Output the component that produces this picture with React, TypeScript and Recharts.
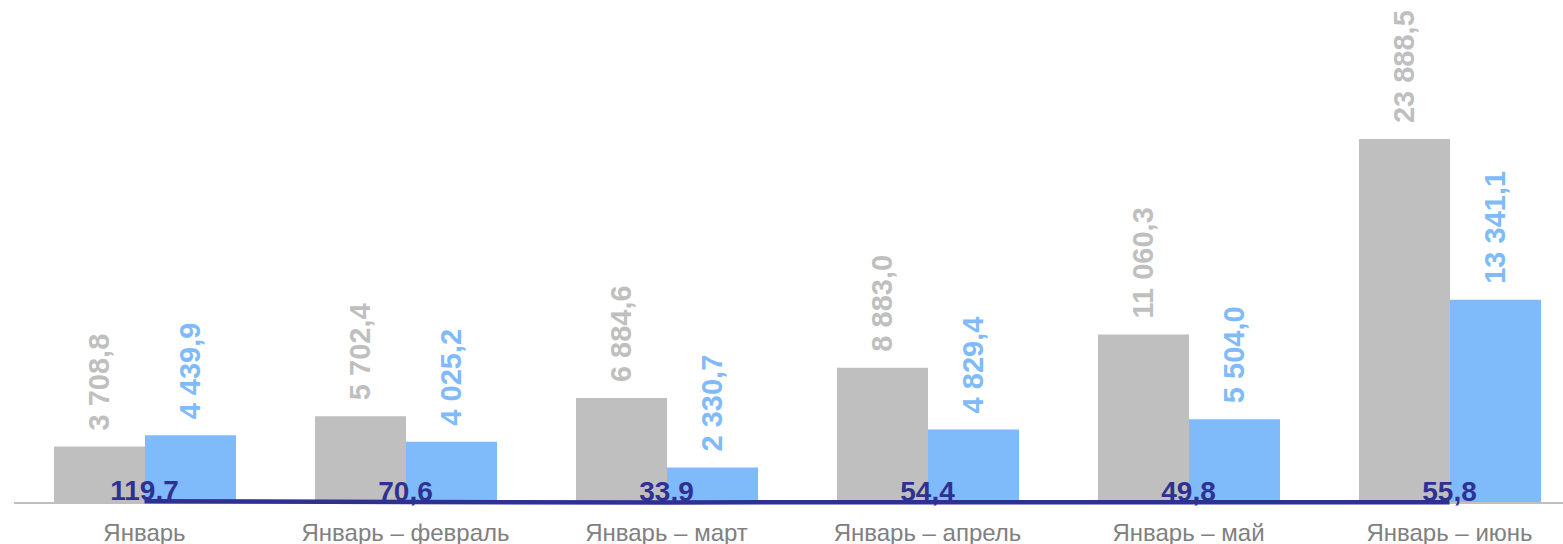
import { ComposedChart, Bar, Line, XAxis, YAxis, LabelList } from "recharts";

const categories = ["Январь", "Январь – февраль", "Январь – март", "Январь – апрель", "Январь – май", "Январь – июнь"];
const prevValues = [3708.8, 5702.4, 6884.6, 8883.0, 11060.3, 23888.5];
const currValues = [4439.9, 4025.2, 2330.7, 4829.4, 5504.0, 13341.1];
const ratioValues = [119.7, 70.6, 33.9, 54.4, 49.8, 55.8];
const ratioLabels = ["119.7", "70,6", "33.9", "54,4", "49,8", "55,8"];

const data = categories.map((name, i) => ({
  name,
  prev: prevValues[i],
  curr: currValues[i],
  ratio: ratioValues[i],
}));

const GRAY = "#BFBFBF";
const BLUE = "#7FBAFA";
const NAVY = "#2E3192";
const FONT = "'Liberation Sans', Arial, sans-serif";

// 23888.5 -> "23 888,5"
const fmt = (v: number) => {
  const [int, dec] = v.toFixed(1).split(".");
  return int.replace(/\B(?=(\d{3})+(?!\d))/g, " ") + "," + dec;
};

const verticalLabel = (color: string) => (props: any) => {
  const { x, y, width, value } = props;
  const cx = Number(x) + Number(width) / 2;
  const cy = Number(y) - 16;
  return (
    <text
      x={cx}
      y={cy}
      transform={`rotate(-90 ${cx} ${cy})`}
      textAnchor="start"
      dominantBaseline="central"
      fill={color}
      fontSize={29}
      fontWeight="bold"
      fontFamily={FONT}
    >
      {fmt(Number(value))}
    </text>
  );
};

const ratioLabel = (props: any) => {
  const { x, y, index } = props;
  return (
    <text
      x={Number(x)}
      y={Number(y) - 1}
      textAnchor="middle"
      fill={NAVY}
      fontSize={28}
      fontWeight="bold"
      fontFamily={FONT}
    >
      {ratioLabels[index]}
    </text>
  );
};

export default function App() {
  return (
    <div style={{ position: "absolute", left: 0, top: 0, width: 1563, height: 544, overflow: "hidden", background: "#fff" }}>
      <ComposedChart
        width={1600}
        height={544}
        data={data}
        margin={{ top: 46, right: 20, bottom: 0, left: 14 }}
        barGap={0}
      >
        <XAxis
          dataKey="name"
          height={41}
          interval={0}
          tickLine={false}
          axisLine={{ stroke: GRAY, strokeWidth: 2 }}
          tickMargin={15}
          tick={{ fill: "#808080", fontSize: 24, fontFamily: FONT }}
        />
        <YAxis hide width={0} domain={[0, 30000]} />
        <Bar dataKey="prev" fill={GRAY} barSize={91} isAnimationActive={false}>
          <LabelList dataKey="prev" content={verticalLabel(GRAY)} />
        </Bar>
        <Bar dataKey="curr" fill={BLUE} barSize={91} isAnimationActive={false}>
          <LabelList dataKey="curr" content={verticalLabel(BLUE)} />
        </Bar>
        <Line
          type="linear"
          dataKey="ratio"
          stroke={NAVY}
          strokeWidth={4.5}
          dot={false}
          isAnimationActive={false}
          {...({ zIndex: 700 } as any)}
        >
          <LabelList dataKey="ratio" content={ratioLabel} />
        </Line>
      </ComposedChart>
    </div>
  );
}
